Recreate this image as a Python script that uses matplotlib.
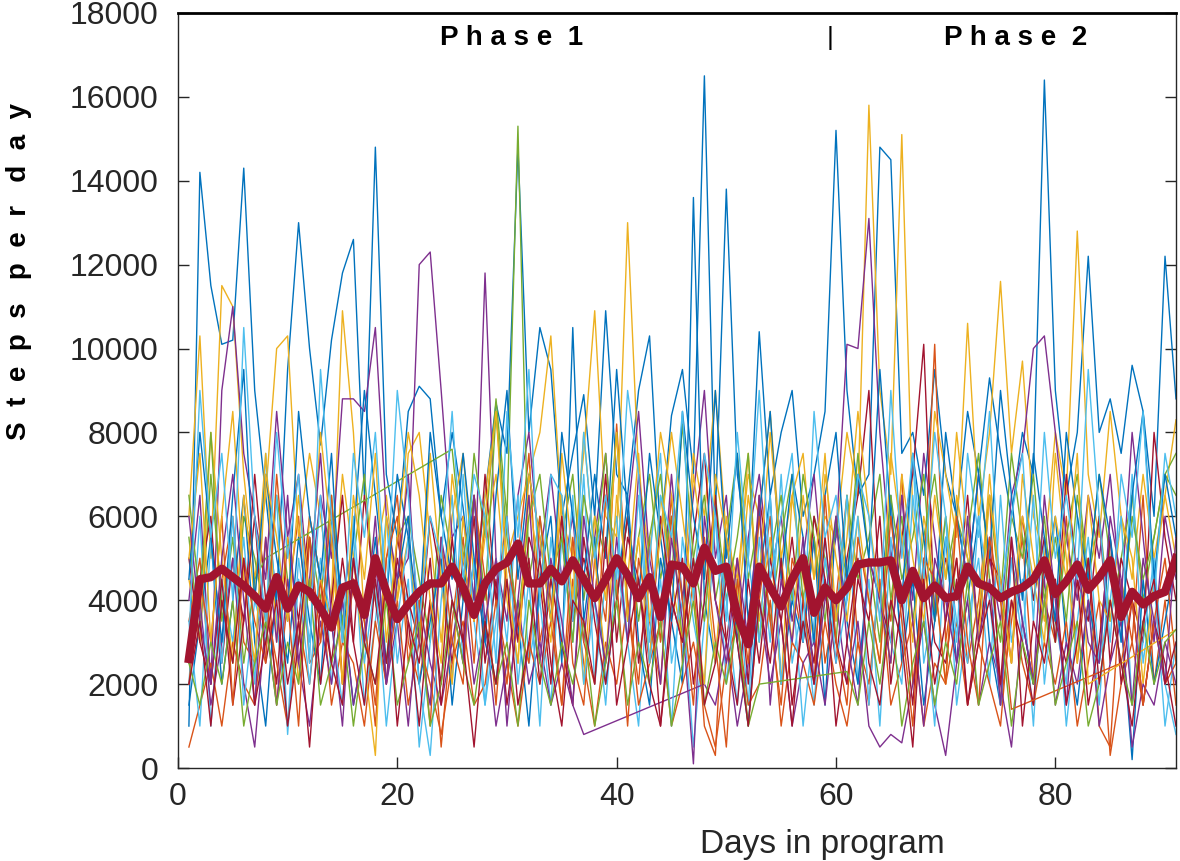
import numpy as np
import matplotlib
matplotlib.use("Agg")
import matplotlib.pyplot as plt

plt.rcParams["font.family"] = ["Liberation Sans", "DejaVu Sans"]

nan = np.nan
days = np.arange(1, 92)

# daily step counts per participant, in thousands
p01 = [1.0, 14.2, 11.5, 10.1, 10.2, 14.3, 9.0, 6.5, 4.0, 9.5,
       13.0, 10.0, 7.7, 10.2, 11.8, 12.6, 6.5, 14.8, 7.0, 5.5,
       8.5, 9.1, 8.8, 6.0, 8.0, 6.2, 4.0, 6.5, 8.7, 7.5,
       14.8, 8.0, 10.5, 9.5, 6.0, 7.5, 8.9, 6.0, 10.9, 7.0,
       6.5, 9.0, 10.3, 5.5, 8.4, 9.5, 7.0, 16.5, 6.0, 13.8,
       7.0, 5.0, 10.4, 6.5, 8.0, 9.0, 6.0, 7.0, 8.5, 15.2,
       9.0, 6.5, 7.0, 14.8, 14.5, 7.5, 8.0, 6.5, 9.5, 7.0,
       6.0, 8.5, 7.0, 9.3, 7.5, 6.0, 8.0, 7.0, 16.4, 9.0,
       6.5, 8.0, 12.2, 8.0, 8.8, 7.5, 9.6, 8.5, 6.0, 12.2,
       8.8]
p02 = [3.5, 5.0, 2.0, 4.5, 6.0, 3.0, 2.5, 5.5, 1.5, 4.0,
       6.0, 2.5, 3.0, 5.5, 2.0, 4.5, 3.5, 1.0, 5.0, 6.5,
       3.0, 2.0, 4.0, 0.5, 3.5, 5.5, 2.5, 6.0, 4.0, 2.0,
       5.0, 7.5, 3.0, 4.5, 6.0, 2.5, 1.5, 5.0, 3.5, 8.2,
       4.0, 2.0, 5.5, 3.0, 6.5, 2.5, 4.5, 1.0, 0.3, 5.5,
       3.5, 1.0, 4.0, 6.0, 2.0, 4.5, 3.0, 5.5, 2.5, 4.0,
       6.5, 3.0, 1.5, 5.0, 3.5, 7.0, 2.0, 4.5, 10.1, 3.0,
       5.0, 2.5, 4.0, 6.5, 1.5, 3.5, 5.5, 2.0, 4.0, 3.0,
       6.0, 2.5, 5.0, 1.0, 0.5, 4.5, 3.0, 6.5, 2.0, 4.0,
       1.5]
p03 = [6.0, 10.3, 5.0, 11.5, 11.0, 7.0, 4.5, 6.5, 10.0, 10.3,
       5.5, 7.5, 6.0, 4.0, 10.9, 8.0, 3.5, 5.0, 6.5, 4.0,
       7.5, 8.0, 5.5, 3.0, 6.0, 7.5, 4.5, 6.5, 8.5, 5.0,
       6.0, 7.0, 8.0, 10.3, 6.0, 5.0, 7.5, 10.9, 6.0, 5.5,
       13.0, 7.0, 5.0, 8.0, 6.5, 4.0, 7.5, 6.0, 9.0, 5.5,
       4.5, 7.0, 6.0, 8.5, 5.0, 6.5, 7.5, 4.5, 6.0, 5.5,
       8.0, 6.5, 15.8, 9.0, 7.0, 15.1, 6.0, 4.0, 8.5, 7.0,
       5.5, 10.6, 6.0, 8.0, 11.6, 7.5, 9.7, 6.0, 5.0, 8.0,
       6.5, 12.8, 7.0, 5.5, 8.5, 6.0, 4.5, 7.0, 5.0, 6.5,
       8.3]
p04 = [4.0, 6.5, 2.0, 9.0, 11.0, 7.5, 6.0, 4.5, 8.5, 5.5,
       7.0, 4.0, 6.5, 5.0, 8.8, 8.8, 8.5, 10.5, 6.0, 4.5,
       5.0, 12.0, 12.3, 9.0, 5.5, 6.0, 4.0, 11.8, 5.0, 3.5,
       6.5, 8.0, 5.0, 7.0, 4.5, 6.0, 3.0, 5.5, 7.5, 4.0,
       6.0, 8.5, 5.0, 3.5, 7.0, 4.0, 6.5, 9.0, 5.0, 6.5,
       3.0, 5.5, 7.0, 4.5, 6.0, 3.5, 5.0, 7.0, 4.0, 5.5,
       10.1, 10.0, 13.1, 8.0, 5.0, 6.5, 4.0, 7.5, 5.5, 3.5,
       6.0, 4.5, 7.0, 5.0, 3.5, 6.5, 7.5, 10.0, 10.3, 8.0,
       5.5, 4.0, 6.5, 5.0, 7.0, 4.0, 8.0, 5.5, 3.0, 6.0,
       4.5]
p05 = [5.5, 3.0, 7.0, 4.0, 2.5, 6.0, 5.0, 3.5, 6.5, 4.5,
       3.0, 5.5, 4.0, 6.5, 3.5, 5.0, 7.0, 4.0, 2.5, 5.5,
       6.0, 4.5, 3.0, 6.5, 5.0, 4.0, 7.5, 5.5, 8.8, 6.0,
       15.3, 4.5, 6.0, 3.5, 5.5, 7.0, 4.0, 6.0, 5.0, 8.0,
       3.5, 5.5, 7.0, 4.5, 6.0, 3.0, 5.0, 6.5, 4.0, 5.5,
       7.5, 4.5, 6.0, 3.5, 5.5, 7.0, 4.0, 6.0, 5.0, 3.0,
       6.5, 4.5, 5.5, 7.0, 4.0, 6.0, 3.5, 5.5, 7.0, 4.5,
       6.0, 5.0, 3.5, 6.5, 4.0, 7.5, 5.5, 4.0, 6.0, 3.0,
       5.5, 7.0, 4.5, 6.0, 3.5, 5.0, 6.5, 4.0, 5.5, 7.0,
       7.5]
p06 = [2.0, 6.0, 1.0, 4.5, 3.0, 5.5, 2.0, 7.5, 3.5, 1.0,
       5.0, 3.0, 6.5, 2.0, 4.0, 5.5, 1.5, 3.5, 6.0, 2.5,
       4.5, 0.5, 3.0, 5.5, 2.0, 7.0, 3.5, 1.5, 5.0, 3.0,
       6.5, 2.5, 4.0, 1.5, 5.5, 3.0, 7.0, 2.0, 4.5, 6.0,
       3.0, 1.0, 5.0, 7.5, 2.5, 4.0, 0.5, 3.5, 6.0, 2.0,
       4.5, 1.5, 5.5, 3.0, 7.0, 2.5, 4.0, 1.5, 5.0, 3.5,
       6.5, 2.0, 4.5, 1.0, 5.5, 3.0, 7.5, 2.5, 4.0, 6.0,
       1.5, 3.5, 5.0, 2.0, 6.5, 3.0, 4.5, 1.0, 5.5, 3.5,
       2.0, 6.0, 4.0, 1.5, 5.0, 3.0, 7.0, 2.5, 4.5, 1.0,
       3.0]
p07 = [3.0, 4.5, 6.0, 2.5, 5.0, 3.5, 7.0, 4.0, 2.0, 5.5,
       3.5, 6.0, 4.5, 2.5, 5.0, 3.0, 6.5, 4.0, 2.0, 5.5,
       4.0, 3.0, 6.0, 4.5, 2.5, 5.0, 3.5, 7.0, 4.0, 6.0,
       3.0, 5.5, 4.5, 2.0, 6.0, 3.5, 5.0, 4.0, 7.0, 3.0,
       5.5, 4.5, 2.5, 6.0, 4.0, 3.0, 5.5, 7.5, 4.0, 3.0,
       5.0, 2.0, 6.5, 4.5, 3.5, 5.5, 3.0, 6.0, 4.5, 2.5,
       5.0, 6.5, 9.0, 4.0, 3.0, 5.5, 7.0, 10.1, 3.5, 5.0,
       4.0, 6.5, 3.0, 5.0, 4.5, 2.5, 6.0, 4.0, 5.5, 3.0,
       7.0, 4.5, 3.5, 6.0, 2.5, 5.0, 4.0, 3.0, 8.0, 5.5,
       4.0]
p08 = [1.5, 3.5, 5.5, 2.0, 4.0, 6.5, 3.0, 1.0, 4.5, 2.5,
       5.5, 3.5, 2.0, 6.0, 4.0, 1.5, 3.0, 5.5, 2.5, 4.5,
       6.0, 2.0, 3.5, 5.0, 1.5, 4.0, 6.5, 3.0, 2.0, 5.0,
       3.5, 1.0, 4.5, 6.0, 2.5, 10.5, 3.5, 5.5, 2.0, 4.0,
       6.5, 3.0, 1.5, 5.0, 3.5, 2.0, 13.6, 4.0, 2.5, 5.5,
       3.0, 1.0, 4.5, 6.5, 2.0, 4.0, 3.0, 5.5, 1.5, 6.0,
       3.5, 2.0, 5.0, 4.0, 6.5, 2.5, 4.5, 1.5, 3.5, 5.5,
       2.5, 4.0, 6.0, 3.0, 1.5, 5.0, 3.5, 2.0, 4.5, 6.0,
       3.0, 1.5, 4.0, 2.5, 5.5, 3.5, 0.2, 4.5, 2.0, 3.5,
       5.0]
p09 = [0.5, 1.5, 2.5, 1.0, 3.0, 2.0, 1.5, 4.0, 2.5, 1.0,
       3.5, 2.0, 4.5, 1.5, 3.0, 2.5, 1.0, 3.5, 2.0, 4.0,
       1.5, 3.0, 2.0, 0.8, 2.5, 3.5, 1.5, 2.0, 4.0, 2.5,
       1.0, 3.0, 2.0, 3.5, 1.5, 4.5, 2.5, 1.0, 3.0, 2.0,
       4.0, 1.5, 2.5, 3.5, 1.0, 2.0, 3.0, 1.5, 0.5, 2.5,
       3.5, 1.5, 2.0, 4.0, 1.0, 3.0, 2.5, 1.5, 3.5, 2.0,
       1.0, 3.0, 2.0, 4.5, 1.5, 2.5, 3.5, 1.0, 2.5, 2.0,
       3.5, 1.5, 3.0, 2.0, 1.0, 4.0, 2.5, 1.5, 3.0, 2.0,
       3.5, 1.0, 2.5, 4.0, 0.3, 2.0, 3.0, 1.5, 3.5, 2.0,
       2.5]
p10 = [4.5, 3.0, 8.0, 5.0, 2.5, 6.5, 4.0, 7.5, 3.0, 5.5,
       2.0, 6.0, 4.5, 3.5, 7.0, 5.0, 2.5, 0.3, 6.0, 4.0,
       5.5, 3.0, 7.5, 4.5, 2.0, 6.0, 3.5, 5.5, 7.0, 4.0,
       2.5, 6.5, 4.5, 3.0, 7.5, 5.0, 2.0, 6.0, 4.0, 8.0,
       3.5, 5.5, 2.5, 6.5, 4.5, 3.0, 7.0, 5.0, 2.5, 6.0,
       4.0, 7.5, 3.5, 5.5, 2.0, 6.5, 4.5, 3.0, 7.0, 5.0,
       3.5, 6.0, 4.0, 2.5, 7.5, 5.5, 3.0, 6.0, 4.5, 2.0,
       6.5, 5.0, 3.5, 7.0, 4.0, 2.5, 6.0, 4.5, 3.0, 7.5,
       5.0, 2.5, 6.5, 4.0, 3.5, 6.0, 5.0, 2.0, 4.5, 6.5,
       5.0]
p11 = [2.5, 4.0, 1.5, 3.0, 5.0, 2.0, 0.5, 3.5, 1.5, 4.5,
       2.5, 1.0, 3.5, 2.0, 4.0, 1.5, 3.0, 5.0, 2.0, 3.5,
       1.0, 4.0, 2.5, 1.5, 3.0, 4.5, 2.0, 3.5, 1.0, 2.5,
       4.0, 2.0, 3.0, 1.5, 2.5, 1.5, 0.8, nan, nan, nan,
       nan, nan, nan, nan, nan, nan, nan, 2.0, 1.5, 3.0,
       1.0, 2.5, 4.0, 2.0, 3.5, 1.0, 2.5, 3.0, 1.5, 4.0,
       2.0, 3.5, 1.0, 0.5, 0.8, 0.6, 2.0, 3.5, 1.5, 0.3,
       2.5, 4.0, 1.5, 3.0, 2.0, 0.5, 3.5, 2.0, 4.5, 1.5,
       3.0, 2.0, 4.0, 1.0, 2.5, 3.5, 0.5, 2.0, 1.5, 3.0,
       2.0]
p12 = [6.5, 4.0, 8.0, 3.5, 5.5, 2.5, 4.5, 5.0, nan, nan,
       nan, nan, nan, nan, nan, nan, nan, nan, nan, nan,
       nan, nan, nan, nan, 7.6, 5.0, 6.5, 4.0, 8.5, 5.5,
       3.5, 6.0, 7.0, 4.5, 5.5, 3.0, 6.5, 5.0, 7.5, 4.0,
       6.0, 3.5, 5.5, 7.0, 4.5, 8.2, 5.0, 3.5, 6.5, 4.0,
       5.5, 7.5, 3.0, 5.0, 6.5, 4.0, 7.0, 5.5, 3.5, 6.0,
       4.5, 7.5, 5.0, 3.0, 6.5, 4.5, 5.5, 7.0, 3.5, 6.0,
       4.0, 5.5, 7.5, 4.5, 3.0, 6.0, 5.0, 7.0, 4.0, 5.5,
       3.5, 6.5, 4.5, 7.0, 5.0, 3.5, 6.0, 4.5, 5.5, 7.0,
       6.5]
p13 = [3.5, 1.0, 5.5, 2.5, 6.0, 1.5, 4.0, 3.0, 6.5, 0.8,
       4.5, 2.0, 5.0, 3.5, 1.5, 6.0, 2.5, 4.5, 1.0, 3.5,
       5.5, 2.0, 0.3, 4.0, 6.5, 2.5, 5.0, 1.5, 3.5, 6.0,
       2.0, 4.5, 1.0, 5.5, 3.0, 6.5, 2.0, 4.0, 1.5, 5.0,
       3.0, 6.5, 2.5, 4.5, 1.0, 5.5, 3.5, 2.0, 6.0, 4.0,
       1.5, 5.0, 3.0, 6.5, 2.0, 4.5, 1.0, 3.5, 5.5, 2.5,
       4.0, 6.0, 1.5, 5.0, 3.0, 2.0, 6.5, 4.0, 1.0, 5.5,
       3.5, 2.5, 6.0, 4.0, 1.5, 5.0, 3.0, 6.5, 2.0, 4.5,
       1.0, 3.5, 5.5, 2.5, 4.0, 6.0, 1.5, 3.0, 5.0, 2.0,
       0.8]
p14 = [5.0, 3.0, 2.0, 4.5, 1.5, 3.5, 6.0, 2.5, 4.0, 1.0,
       3.0, 5.5, 2.0, 4.0, 6.5, 3.0, 1.5, 4.5, 2.5, 5.0,
       3.5, 1.0, 4.0, 2.0, 5.5, 3.0, 6.0, 2.5, 4.5, 1.5,
       3.5, 5.0, 2.0, 4.5, 3.0, 1.5, 5.5, 3.5, 2.0, 4.0,
       6.0, 2.5, 4.5, 1.0, 3.5, 5.0, 2.0, 4.0, 6.5, 3.0,
       1.5, 4.5, 2.5, 5.0, 3.5, 1.0, 4.0, 2.5, 5.5, 3.0,
       2.0, 4.5, 3.5, 6.0, 2.0, 4.0, 1.5, 5.0, 3.0, 2.5,
       4.5, 1.5, 3.5, 5.5, 2.0, 4.0, 3.0, 1.5, 5.0, 3.5,
       2.5, 4.5, 1.5, 3.0, 5.5, 2.0, 4.0, 1.5, 3.5, 2.5,
       1.0]
p15 = [4.5, 8.0, 5.5, 3.0, 6.5, 9.5, 4.0, 7.0, 5.0, 3.5,
       8.5, 6.0, 4.5, 7.5, 3.0, 5.5, 9.0, 6.5, 4.0, 7.0,
       5.5, 3.5, 8.0, 6.0, 4.5, 7.5, 5.0, 3.0, 6.5, 9.0,
       4.5, 7.0, 5.5, 3.5, 8.0, 6.0, 4.5, 7.0, 5.0, 9.5,
       6.0, 4.0, 7.5, 5.5, 3.5, 8.5, 6.0, 4.5, 9.0, 5.0,
       7.5, 3.5, 6.0, 8.5, 4.5, 7.0, 5.5, 3.0, 6.5, 8.0,
       4.5, 7.0, 5.0, 9.5, 6.0, 4.0, 7.5, 5.5, 3.5, 8.0,
       6.0, 4.5, 7.0, 5.0, 9.0, 6.5, 4.0, 7.5, 5.5, 3.5,
       8.0, 6.0, 4.5, 7.0, 5.5, 3.0, 6.5, 8.5, 4.5, 7.0,
       5.5]
p16 = [2.0, 4.5, 3.0, 6.0, 1.5, 5.0, 3.5, 2.5, 7.0, 4.0,
       1.0, 5.5, 3.0, 6.5, 2.0, 4.5, 3.5, 1.5, 5.0, 6.0,
       2.5, 4.0, 1.0, 5.5, 3.0, 2.0, 6.5, 4.5, 1.5, 5.0,
       3.5, 2.5, 6.0, 4.0, 1.5, 5.5, 3.0, 2.0, 6.5, 4.5,
       1.0, 5.0, 3.5, 2.0, 6.0, 4.0, 1.5, 5.5, 3.0, 0.5,
       4.5, 2.5, 6.0, 3.5, 1.5, 5.0, 4.0, 2.0, 6.5, 3.0,
       1.5, 5.5, 4.0, 2.5, 6.0, 3.5, 1.0, 5.0, 4.5, 2.0,
       6.0, 3.0, 1.5, 5.5, 4.0, 1.4, nan, nan, nan, nan,
       nan, nan, nan, nan, nan, 2.5, 4.0, 1.5, 3.5, 5.0,
       2.5]
p17 = [5.0, 7.5, 3.0, 6.0, 8.5, 4.5, 2.5, 7.0, 5.5, 3.5,
       6.5, 4.0, 8.0, 5.5, 2.0, 6.5, 4.5, 7.5, 3.0, 5.5,
       8.0, 6.5, 4.0, 2.5, 7.0, 5.0, 3.5, 6.0, 8.5, 4.5,
       2.5, 7.0, 5.5, 3.5, 6.5, 4.0, 8.0, 5.0, 2.5, 6.5,
       4.5, 7.5, 3.5, 5.5, 8.0, 6.0, 4.0, 2.0, 7.0, 5.5,
       3.5, 6.5, 4.5, 8.0, 5.0, 3.0, 6.5, 4.5, 7.5, 3.5,
       5.5, 8.5, 6.0, 4.0, 2.5, 7.0, 5.0, 3.5, 6.5, 4.5,
       8.0, 5.5, 3.0, 6.5, 4.5, 2.5, 7.0, 5.0, 3.5, 6.0,
       4.5, 7.5, 2.0, nan, nan, nan, nan, nan, nan, nan,
       3.3]
p18 = [6.0, 3.5, 2.0, 5.0, 7.0, 4.0, 1.5, 5.5, 3.0, 6.5,
       2.5, 4.5, 7.5, 3.5, 1.0, 5.0, 3.0, 6.0, 2.0, 4.5,
       7.0, 3.0, 1.5, 5.5, 4.0, 2.5, 6.5, 3.5, 5.0, 1.0,
       4.0, 6.5, 2.5, 5.0, 3.5, 1.5, 6.0, 4.0, 2.5, 5.5,
       3.0, 7.0, 4.5, 2.0, 5.5, 3.5, 0.1, 6.0, 4.0, 2.5,
       5.0, 3.0, 6.5, 1.5, 4.5, 3.0, 5.5, 2.0, 4.0, 6.0,
       3.0, 1.5, 5.0, 4.0, 2.5, 6.5, 3.5, 1.0, 5.0, 4.0,
       2.5, 6.0, 3.0, 4.5, 1.5, 5.5, 3.5, 2.0, 6.5, 4.0,
       1.5, 5.0, 3.0, 2.5, 6.0, 4.5, 1.5, 5.0, 3.5, 2.0,
       5.5]
p19 = [2.5, 1.5, 3.0, 2.0, 4.0, 1.0, 2.5, 3.5, 1.5, 3.0,
       2.0, 4.5, 1.5, 2.5, 3.5, 1.0, 3.0, 2.0, 4.0, 1.5,
       2.5, 3.5, 1.0, 2.0, 4.0, 2.5, 1.5, 3.5, 2.0, 3.0,
       1.0, 4.0, 2.5, 1.5, 3.0, 2.0, 3.5, 1.0, 2.5, 4.0,
       1.5, 3.0, 2.0, 3.5, 1.0, 2.5, 4.0, 1.5, 3.0, 2.0,
       3.5, 1.0, 2.0, nan, nan, nan, nan, nan, nan, nan,
       2.3, 1.5, 3.5, 2.0, 4.0, 1.0, 2.5, 3.5, 1.5, 3.0,
       2.0, 4.5, 1.5, 2.5, 3.5, 1.0, 3.0, 2.0, 4.0, 1.5,
       2.5, 3.5, 1.0, 2.0, 4.0, 2.5, 1.5, 3.5, 2.0, 3.0,
       3.3]
p20 = [3.0, 9.0, 5.5, 7.5, 4.0, 10.5, 6.0, 3.5, 8.0, 5.0,
       7.0, 2.5, 9.5, 6.0, 3.0, 7.5, 5.5, 8.0, 4.0, 9.0,
       6.5, 3.5, 6.0, 5.0, 8.5, 4.5, 7.0, 6.0, 2.5, 8.5,
       5.5, 9.5, 4.0, 7.0, 6.5, 3.5, 8.0, 5.0, 6.5, 4.5,
       9.0, 7.0, 3.0, 6.5, 5.5, 8.5, 4.0, 7.5, 6.0, 3.5,
       8.0, 5.0, 9.0, 4.5, 6.0, 7.5, 3.0, 8.5, 5.5, 6.5,
       4.0, 7.0, 6.0, 3.5, 9.0, 5.0, 7.5, 4.5, 8.0, 6.0,
       3.0, 7.5, 5.5, 8.5, 4.0, 6.0, 7.5, 3.5, 8.0, 5.0,
       6.5, 4.5, 9.5, 6.0, 3.0, 7.0, 5.5, 8.5, 4.0, 7.5,
       6.0]
p21 = [2.0, 3.5, 1.0, 4.0, 2.5, 5.0, 1.5, 3.0, 4.5, 2.0,
       3.5, 0.5, 4.0, 2.5, 1.5, 5.0, 3.0, 2.0, 4.5, 1.0,
       3.5, 2.5, 5.0, 1.5, 4.0, 3.0, 0.5, 3.5, 2.0, 4.5,
       1.5, 3.0, 5.0, 2.5, 1.0, 4.0, 3.5, 2.0, 5.5, 1.5,
       3.0, 4.5, 2.0, 1.0, 4.0, 3.0, 5.0, 1.5, 2.5, 4.5,
       3.0, 1.0, 4.0, 2.5, 5.0, 1.5, 3.5, 2.0, 4.5, 1.0,
       3.0, 5.0, 2.5, 1.5, 4.0, 3.0, 0.5, 4.5, 2.0, 3.5,
       5.0, 1.5, 3.0, 4.0, 2.0, 5.5, 1.0, 3.5, 2.5, 4.5,
       1.5, 3.0, 5.0, 2.0, 4.0, 2.5, 1.0, 3.5, 4.5, 2.0,
       3.0]

# group mean, steps per day
mean_steps = [2600, 4500, 4550, 4750, 4550, 4350, 4100, 3800, 4550, 3800,
              4350, 4200, 3800, 3350, 4300, 4400, 3650, 5000, 4200, 3550,
              3900, 4200, 4400, 4400, 4800, 4300, 3650, 4400, 4750, 4900,
              5350, 4400, 4400, 4750, 4450, 4950, 4500, 4050, 4500, 5000,
              4600, 4050, 4550, 3600, 4850, 4800, 4400, 5250, 4700, 4800,
              3650, 2950, 4800, 4300, 3850, 4500, 5000, 3700, 4300, 4000,
              4300, 4850, 4900, 4900, 4950, 4000, 4700, 4050, 4350, 4050,
              4100, 4800, 4400, 4300, 4050, 4200, 4300, 4500, 4950, 4150,
              4450, 4850, 4250, 4550, 4950, 3600, 4200, 3900, 4100, 4200,
              5000]

participants = [p01, p02, p03, p04, p05, p06, p07, p08, p09, p10, p11,
                p12, p13, p14, p15, p16, p17, p18, p19, p20, p21]
matlab_colors = ["#0072BD", "#D95319", "#EDB120", "#7E2F8E",
                 "#77AC30", "#4DBEEE", "#A2142F"]

fig = plt.figure(figsize=(11.8, 8.61), dpi=100)
ax = fig.add_axes([0.1508, 0.108, 0.8458, 0.877])

for i, p in enumerate(participants):
    y = np.array(p) * 1000
    ok = ~np.isnan(y)
    ax.plot(days[ok], y[ok], color=matlab_colors[i % 7], lw=1.0)

ax.plot(days, mean_steps, color="#A2142F", lw=6, solid_joinstyle="round")

ax.set_xlim(0, 91)
ax.set_ylim(0, 18000)
ax.set_xticks([0, 20, 40, 60, 80])
ax.set_yticks(range(0, 18001, 2000))
ax.tick_params(direction="in", length=8, width=1, colors="#262626",
               labelsize=23, right=True, pad=10)
ax.tick_params(axis="y", pad=14)
for side in ["left", "bottom", "right"]:
    ax.spines[side].set_color("#262626")
    ax.spines[side].set_linewidth(1)
ax.spines["top"].set_color("black")
ax.spines["top"].set_linewidth(2)

ax.text(30.4, 17400, "P h a s e  1", fontsize=20, fontweight="bold",
        ha="center", va="center")
ax.text(59.5, 17400, "|", fontsize=19, ha="center", va="center")
ax.text(76.4, 17400, "P h a s e  2", fontsize=20, fontweight="bold",
        ha="center", va="center")

fig.text(0.016, 0.685, "S  t  e  p  s   p  e  r   d  a  y", rotation=90,
         fontsize=20, fontweight="bold", ha="center", va="center")
fig.text(0.697, 0.019, "Days in program", fontsize=24, color="#262626",
         ha="center", va="center")

plt.savefig("out.png", dpi=100)
